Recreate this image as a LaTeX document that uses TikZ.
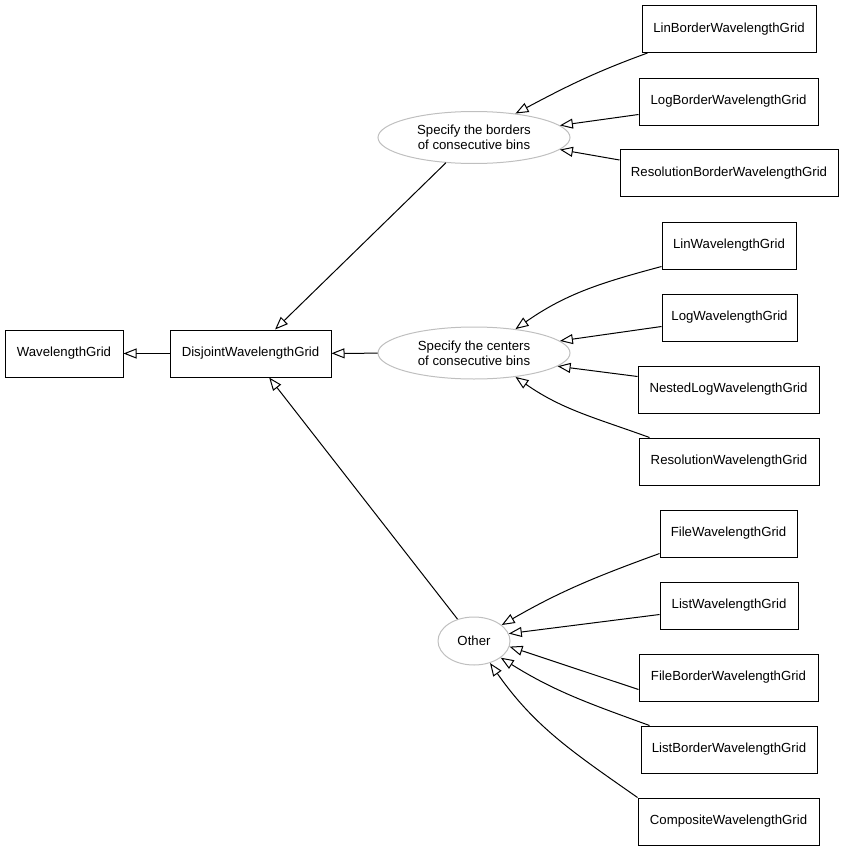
\documentclass[tikz,border=0pt]{standalone}
\usepackage{fontspec}
\setmainfont{Liberation Sans}
\usetikzlibrary{arrows.meta,shapes.geometric,calc}
\begin{document}
\begin{tikzpicture}[x=1pt,y=-1pt,
  font=\fontsize{13.2}{15}\selectfont,
  cls/.style={draw=black,line width=1pt,minimum height=47pt,inner sep=0pt,fill=white},
  grp/.style={ellipse,draw=black!25,line width=1pt,inner sep=0pt,align=center},
  inh/.style={draw=black,line width=1pt,-{Triangle[open,length=13pt,width=10pt,line width=1pt]}}
]
\useasboundingbox (0,0) rectangle (845,851);
% base classes
\node[cls,minimum width=118pt] (wg) at (64,353.5) {WavelengthGrid};
\node[cls,minimum width=161pt] (dis) at (250.5,353.5) {DisjointWavelengthGrid};
% groups
\node[grp,minimum width=192pt,minimum height=52pt] (bor) at (474,137.5) {Specify the borders\\of consecutive bins};
\node[grp,minimum width=192pt,minimum height=52pt] (cen) at (474,353) {Specify the centers\\of consecutive bins};
\node[grp,minimum width=72pt,minimum height=48pt] (oth) at (474,641) {Other};
% leaf classes
\node[cls,minimum width=174pt] (lbw) at (729,29) {LinBorderWavelengthGrid};
\node[cls,minimum width=179pt] (gbw) at (728.5,101.5) {LogBorderWavelengthGrid};
\node[cls,minimum width=218pt] (rbw) at (729,173) {ResolutionBorderWavelengthGrid};
\node[cls,minimum width=134pt] (lw) at (729,245.5) {LinWavelengthGrid};
\node[cls,minimum width=135pt] (gw) at (729.5,317.5) {LogWavelengthGrid};
\node[cls,minimum width=181pt] (nw) at (728.5,389.5) {NestedLogWavelengthGrid};
\node[cls,minimum width=180pt] (rw) at (729,461.5) {ResolutionWavelengthGrid};
\node[cls,minimum width=137pt] (fw) at (728.5,533.5) {FileWavelengthGrid};
\node[cls,minimum width=138pt] (liw) at (729,605.5) {ListWavelengthGrid};
\node[cls,minimum width=179pt] (fbw) at (728.5,677.5) {FileBorderWavelengthGrid};
\node[cls,minimum width=176pt] (lbg) at (729,749.5) {ListBorderWavelengthGrid};
\node[cls,minimum width=181pt] (cw) at (728.5,821.5) {CompositeWavelengthGrid};
% edges
\draw[inh] (dis) -- (wg);
\draw[inh] (cen) -- (dis);
\draw[inh] (bor.222) -- (dis);
\draw[inh] (oth.127) -- (dis);
% borders
\draw[inh] ($(lbw.south west)+(6,0)$) to[out=200,in=28] (bor.30);
\draw[inh] ($(gbw.south west)+(0,-11)$) -- (bor.8);
\draw[inh] ($(rbw.north west)+(0,11)$) -- (bor.352);
% centers
\draw[inh] ($(lw.south west)+(0,-3)$) to[out=195,in=35] (cen.30);
\draw[inh] ($(gw.north west)+(0,33)$) -- (cen.8);
\draw[inh] ($(nw.north west)+(0,11)$) -- (cen.351);
\draw[inh] ($(rw.north west)+(11,0)$) to[out=160,in=325] (cen.330);
% other
\draw[inh] ($(fw.south west)+(0,-4)$) to[out=200,in=30] (oth.30);
\draw[inh] ($(liw.north west)+(0,33)$) -- (oth.12);
\draw[inh] ($(fbw.north west)+(0,36)$) -- (oth.351);
\draw[inh] ($(lbg.north west)+(9,0)$) to[out=160,in=328] (oth.328);
\draw[inh] (cw.north west) to[out=145,in=305] (oth.306);
\end{tikzpicture}
\end{document}
